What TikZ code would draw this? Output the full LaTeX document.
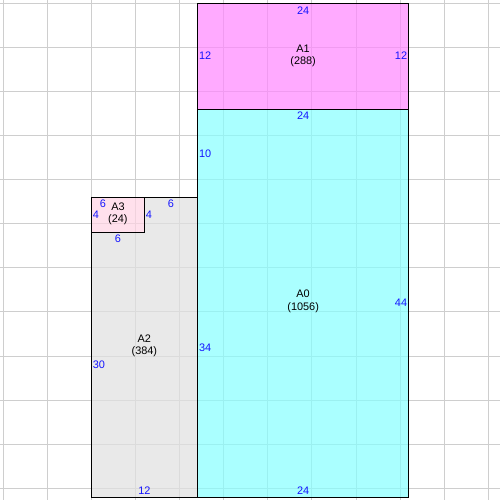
\documentclass[tikz,border=0pt]{standalone}
\usepackage{fontspec}
\setmainfont{Liberation Sans}
\definecolor{gridgray}{RGB}{206,206,206}
\definecolor{dimblue}{RGB}{20,20,255}
\definecolor{fillA0}{RGB}{134,255,255}
\definecolor{fillA1}{RGB}{255,134,255}
\definecolor{fillA2}{RGB}{225,225,225}
\definecolor{fillA3}{RGB}{255,212,228}

\begin{document}
\begin{tikzpicture}
	[x=0.25cm, y=-0.25cm, font=\fontsize{8.8}{9.8}\selectfont,
	gridline/.style={draw=gridgray, line width=0.8pt},
	room/.style={fill opacity=0.7},
	wall/.style={draw=black, line width=0.8pt},
	roomlabel/.style={align=center, inner sep=0pt},
	dimlabel/.style={text=dimblue, inner sep=0pt}]
	\useasboundingbox[fill=white] (-0.37,-0.37) rectangle (56.32,56.32);
	% grid
	\foreach \g in {0,5,...,55} {
		\draw[gridline] (\g,-0.37) -- (\g,56.32);
		\draw[gridline] (-0.37,\g) -- (56.32,\g);
	}
	% rooms
	\fill[room, fillA1] (22,0) rectangle (46,12);
	\fill[room, fillA0] (22,12) rectangle (46,56);
	\fill[room, fillA2] (10,26) -- (16,26) -- (16,22) -- (22,22) -- (22,56) -- (10,56) -- cycle;
	\fill[room, fillA3] (10,22) rectangle (16,26);
	\draw[wall] (22,0) rectangle (46,12);
	\draw[wall] (22,12) rectangle (46,56);
	\draw[wall] (10,22) rectangle (22,56);
	\draw[wall] (10,22) rectangle (16,26);
	% names
	\node[roomlabel] (a1) at (34,6) {A1\\(288)};
	\node[roomlabel] (a0) at (34,33.8) {A0\\(1056)};
	\node[roomlabel] (a2) at (16,38.8) {A2\\(384)};
	\node[roomlabel] (a3) at (13,23.9) {A3\\(24)};
	% lengths
	\node[dimlabel] (a1t) at (34,0.8) {24};
	\node[dimlabel] (a1l) at (22.9,6) {12};
	\node[dimlabel] (a1r) at (45.1,6) {12};
	\node[dimlabel] (a0t) at (34,12.8) {24};
	\node[dimlabel] (a0l) at (22.9,17.1) {10};
	\node[dimlabel] (a0r) at (45.1,34) {44};
	\node[dimlabel] (a0b) at (34,55.25) {24};
	\node[dimlabel] (a2r) at (22.9,39) {34};
	\node[dimlabel] (a2l) at (10.85,41) {30};
	\node[dimlabel] (a2b) at (16,55.3) {12};
	\node[dimlabel] (a2t) at (19,22.75) {6};
	\node[dimlabel] (a3t) at (11.3,22.75) {6};
	\node[dimlabel] (a3l) at (10.5,24) {4};
	\node[dimlabel] (a3r) at (16.5,24) {4};
	\node[dimlabel] (a3b) at (13,26.7) {6};
\end{tikzpicture}
\end{document}
